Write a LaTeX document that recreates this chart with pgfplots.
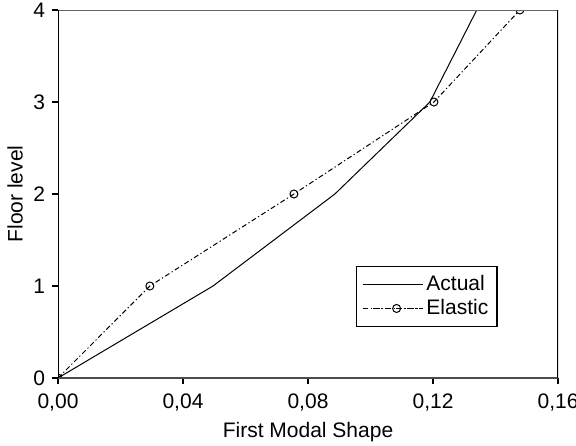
\documentclass[border=0pt]{standalone}
\usepackage{fontspec}
\setmainfont{Liberation Sans}
\usepackage{pgfplots}
\pgfplotsset{compat=1.18}
\begin{document}
\begin{tikzpicture}
\begin{axis}[
  scale only axis, width=250pt, height=184pt,
  xmin=0, xmax=0.16, ymin=0, ymax=4,
  xtick={0,0.04,0.08,0.12,0.16},
  ytick={0,1,2,3,4},
  xticklabel style={yshift=-1.5pt, /pgf/number format/.cd, fixed, fixed zerofill, precision=2, use comma},
  /pgf/number format/assume math mode=true,
  tick align=outside, xtick pos=left, ytick pos=left,
  major tick length=3pt,
  tick style={black, line width=0.6pt},
  axis line style={draw=none},
  clip marker paths=true,
  font=\fontsize{10.5}{12}\selectfont,
  xlabel={First Modal Shape}, ylabel={Floor level},
  xlabel style={at={(axis description cs:0.5,-0.1467)}, anchor=center},
  ylabel style={at={(axis description cs:-0.086,0.5)}, anchor=center},
  legend style={at={(rel axis cs:0.596,0.304)}, anchor=north west,
    draw=black, line width=0.6pt, inner xsep=3pt, inner ysep=3pt,
    nodes={inner sep=1.4pt}},
  legend cell align=left,
  legend image code/.code={\path (0pt,0pt) -- (30pt,0pt);
    \draw[mark repeat=2,mark phase=2,#1] plot coordinates {(5pt,0pt) (16.75pt,0pt) (28.5pt,0pt)};},
]
\addplot[black, line width=0.5pt] coordinates {
  (0,0) (0.0496,1) (0.0886,2) (0.119,3) (0.134,4)
};
\addlegendentry{Actual}
\addplot[black, line width=0.5pt, dash pattern=on 2.5pt off 1.3pt on 0.6pt off 1.3pt,
  mark=o, mark size=2pt, mark options={solid, fill=white}] coordinates {
  (0,0) (0.0294,1) (0.0755,2) (0.1203,3) (0.1478,4)
};
\addlegendentry{Elastic}
\draw[black!60, line width=0.8pt] (rel axis cs:0,1) -- (rel axis cs:1,1);
\draw[black!70, line width=1pt] (rel axis cs:0,0) -- (rel axis cs:1,0);
\draw[black, line width=1.3pt] (rel axis cs:0,0) -- (rel axis cs:0,1);
\draw[black, line width=1.4pt] (rel axis cs:1,0) -- (rel axis cs:1,1);
\end{axis}
\pgfresetboundingbox
\path ([shift={(-29pt,-33.5pt)}]current axis.south west) rectangle ([shift={(9pt,5pt)}]current axis.north east);
\end{tikzpicture}
\end{document}
